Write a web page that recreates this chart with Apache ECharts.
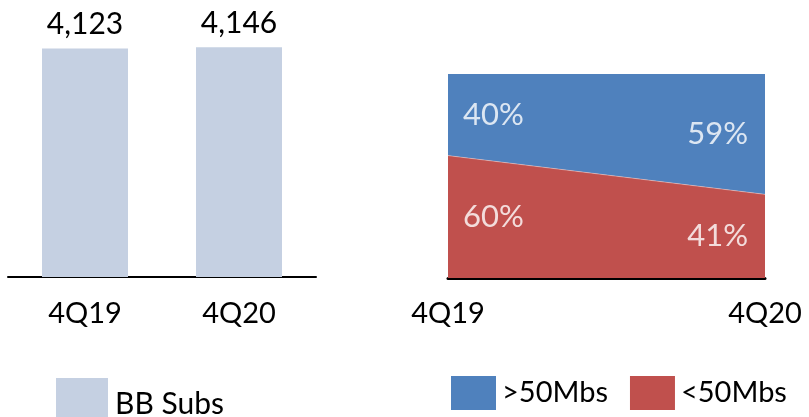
<!DOCTYPE html>
<html>
<head>
<meta charset="utf-8">
<script src="https://cdn.jsdelivr.net/npm/echarts@6/dist/echarts.min.js"></script>
<style>
  html, body { margin: 0; padding: 0; background: #fff; }
  #chart { width: 809px; height: 417px; }
</style>
</head>
<body>
<div id="chart"></div>
<script>
// Broadband subscribers (thousands)
const quarters = ['4Q19', '4Q20'];
const bbSubs = [4123, 4146];

// Speed mix (% of subscribers)
const speedQuarters = ['4Q19', '4Q20'];
const over50 = [40, 59];
const under50 = [60, 41];

const FONT = 'Lato, "Open Sans", sans-serif';
const BAR_COLOR = '#C5D0E2';
const BLUE = '#4F81BD';
const RED = '#C0504D';

// Label anchors sit at the middle of each stacked band
function bandLabels(lower, values) {
  return values.map((v, i) => ({
    value: [i, lower[i] + v / 2, v],
    label: i === 0
      ? { position: 'right', distance: 15 }
      : { position: 'left', distance: 17 }
  }));
}
const zeros = speedQuarters.map(() => 0);

const chart = echarts.init(document.getElementById('chart'));
chart.setOption({
  animation: false,
  textStyle: { fontFamily: FONT },
  grid: [
    { left: 8, width: 308, top: 0, bottom: 140 },
    { left: 448, right: 44, top: 74, bottom: 139 }
  ],
  xAxis: [
    {
      gridIndex: 0, type: 'category', data: quarters, boundaryGap: true,
      axisLine: { lineStyle: { color: '#000', width: 2 } },
      axisTick: { show: false },
      axisLabel: { color: '#000', fontSize: 29, fontFamily: FONT, margin: 22 }
    },
    {
      gridIndex: 1, type: 'category', data: speedQuarters, boundaryGap: false,
      axisLine: { lineStyle: { color: '#000', width: 3 } },
      axisTick: { show: false },
      axisLabel: { color: '#000', fontSize: 29, fontFamily: FONT, margin: 21 }
    }
  ],
  yAxis: [
    { gridIndex: 0, type: 'value', min: 0, max: 5000, show: false },
    { gridIndex: 1, type: 'value', min: 0, max: 100, show: false }
  ],
  legend: [
    {
      data: ['BB Subs'], left: 56, top: 378, icon: 'rect', padding: 0,
      itemWidth: 52, itemHeight: 52, itemGap: 12,
      textStyle: { fontSize: 30, color: '#000', fontFamily: FONT, padding: [0, 0, 0, 2] }
    },
    {
      data: ['>50Mbs', '<50Mbs'], left: 451, top: 376, icon: 'rect', padding: 0,
      itemWidth: 45, itemHeight: 34, itemGap: 22,
      textStyle: { fontSize: 29, color: '#000', fontFamily: FONT, padding: [0, 0, 0, 1] }
    }
  ],
  series: [
    {
      name: 'BB Subs', type: 'bar', xAxisIndex: 0, yAxisIndex: 0,
      data: bbSubs, barWidth: 86,
      itemStyle: { color: BAR_COLOR },
      label: {
        show: true, position: 'top', distance: 9,
        fontSize: 30, color: '#000', fontFamily: FONT,
        formatter: p => p.value.toLocaleString('en-US')
      }
    },
    {
      name: '<50Mbs', type: 'line', xAxisIndex: 1, yAxisIndex: 1,
      stack: 'mix', data: under50, symbol: 'none',
      itemStyle: { color: RED },
      lineStyle: { color: 'rgba(255,255,255,0.35)', width: 1 },
      areaStyle: { color: RED, opacity: 1 },
      z: 2
    },
    {
      name: '>50Mbs', type: 'line', xAxisIndex: 1, yAxisIndex: 1,
      stack: 'mix', data: over50, symbol: 'none',
      itemStyle: { color: BLUE },
      lineStyle: { width: 0 },
      areaStyle: { color: BLUE, opacity: 1 },
      z: 1
    },
    {
      name: 'bandLabels', type: 'scatter', xAxisIndex: 1, yAxisIndex: 1,
      symbolSize: 0, silent: true, z: 5,
      data: bandLabels(zeros, under50).concat(bandLabels(under50, over50)),
      label: {
        show: true, color: '#fff', fontSize: 31, fontFamily: FONT,
        formatter: p => p.value[2] + '%'
      }
    }
  ]
});
</script>
</body>
</html>
